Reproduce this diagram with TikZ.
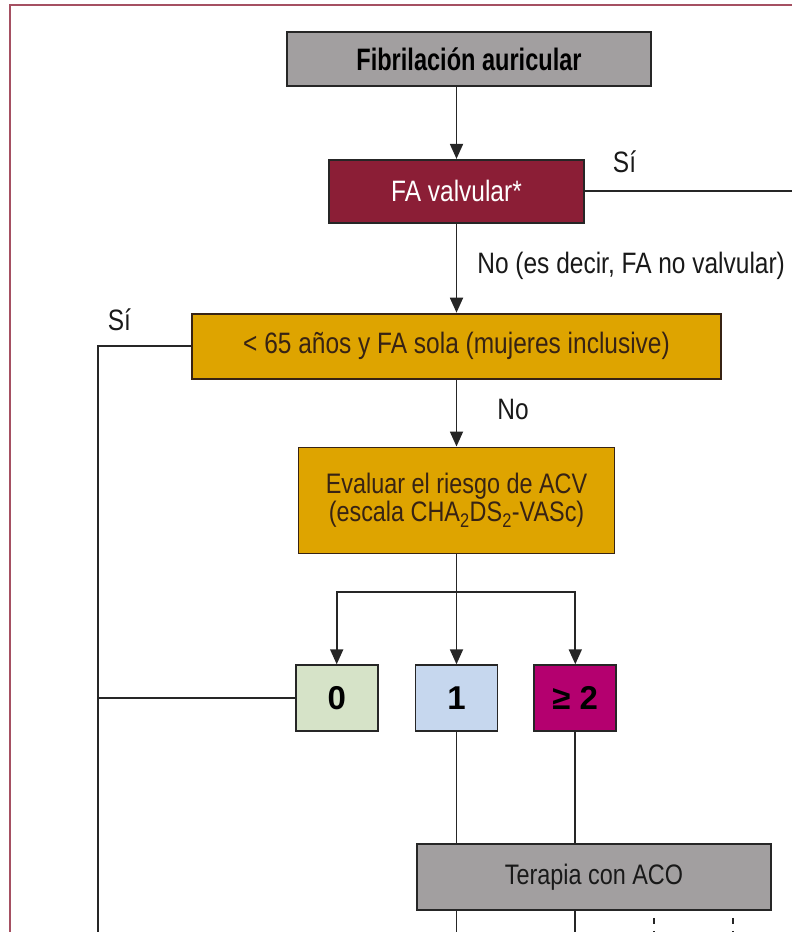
\documentclass[tikz,border=0pt]{standalone}
\usepackage{fontspec}
\setmainfont{Liberation Sans}
\newfontfamily\condfont{Liberation Sans}[FakeStretch=0.83]
\newfontfamily\headfont{Liberation Sans}[FakeStretch=0.76]
\usetikzlibrary{arrows.meta,positioning}

\definecolor{boxgray}{RGB}{162,159,160}
\definecolor{valvred}{RGB}{139,30,54}
\definecolor{agegold}{RGB}{222,164,0}
\definecolor{scoregreen}{RGB}{214,227,200}
\definecolor{scoreblue}{RGB}{198,215,238}
\definecolor{scorepink}{RGB}{180,0,111}
\definecolor{framered}{RGB}{165,80,98}
\definecolor{darkbrown}{RGB}{55,35,20}

\begin{document}
\begin{tikzpicture}[
  x=1pt, y=-1pt,
  font=\condfont\fontsize{29.5}{31}\selectfont,
  box/.style={
    draw=black!85,
    line width=1.8pt,
    inner sep=0pt,
    align=center
  },
  head/.style={box, fill=boxgray, text=black,
    font=\headfont\bfseries\fontsize{31}{33}\selectfont,
    minimum width=364pt, minimum height=54pt},
  valvbox/.style={box, fill=valvred, text=white,
    minimum width=255pt, minimum height=63pt},
  agebox/.style={box, draw=darkbrown, fill=agegold, text=darkbrown,
    minimum width=529pt, minimum height=65pt},
  scorebox/.style={box, text=black,
    font=\normalfont\bfseries\fontsize{33}{35}\selectfont,
    minimum width=82pt, minimum height=66pt},
  therapy/.style={box, fill=boxgray, text=black!90,
    font=\condfont\fontsize{28.2}{30}\selectfont,
    minimum width=354pt, minimum height=66pt},
  lbl/.style={inner sep=0pt, text=black!90},
  line/.style={line width=1.8pt, draw=black!85},
  arrow/.style={line, -{Triangle[length=15pt, width=13pt]}},
  dashline/.style={line width=1.6pt, draw=black!85, dash pattern=on 6pt off 7pt}
]

\useasboundingbox (0,0) rectangle (792,932);
\draw[framered, line width=1.6pt] (10,945) |- (805,5);

\coordinate (bottom) at (0,945);
\coordinate (leftrail) at (98,0);
\coordinate (rightedge) at (805,0);

\node[head] (fib) at (469,59) {Fibrilaci\'on auricular};
\node[valvbox, below=72pt of fib, xshift=-12.5pt] (valv) {FA valvular*};
\node[agebox, below=89pt of valv] (age) {< 65 a\~nos y FA sola (mujeres inclusive)};
\node[agebox, minimum width=316pt, minimum height=106pt,
  font=\condfont\fontsize{28.2}{28.5}\selectfont,
  below=67pt of age] (eval) {Evaluar el riesgo de ACV\\(escala CHA\textsubscript{2}DS\textsubscript{2}-VASc)};

\coordinate[below=38pt of eval.south] (split);

\node[scorebox, fill=scoreblue, below=110pt of eval] (n1) {1};
\node[scorebox, fill=scoregreen, left=36pt of n1] (n0) {0};
\node[scorebox, fill=scorepink, right=35pt of n1] (n2) {≥ 2};

\node[therapy, below=111pt of n1, xshift=137.5pt] (aco) {Terapia con ACO};

\coordinate[below=7pt of aco.south, xshift=60pt] (dash1);
\coordinate[below=7pt of aco.south, xshift=139pt] (dash2);

\draw[arrow] (fib.south -| valv) -- (valv);
\draw[line] (valv) -- node[lbl, pos=0.18, above=18pt] {S\'i} (valv -| rightedge);
\draw[arrow] (valv) -- node[lbl, anchor=west, xshift=20pt, yshift=2pt] {No (es decir, FA no valvular)} (age);
\draw[line] (age) -- node[lbl, pos=0.77, above=14pt] {S\'i} (age -| leftrail) -- (leftrail |- bottom);
\draw[arrow] (age) -- node[lbl, anchor=west, xshift=40pt, yshift=4pt] {No} (eval);

\draw[line] (eval) -- (split);
\draw[arrow] (split) -| (n0);
\draw[arrow] (split) -- (n1);
\draw[arrow] (split) -| (n2);

\draw[line] (n0) -- (n0 -| leftrail);
\draw[line] (n1) -- (n1 |- aco.north);
\draw[line] (n2) -- (n2 |- aco.north);
\draw[line] (aco.south -| n1) -- (n1 |- bottom);
\draw[line] (aco.south -| n2) -- (n2 |- bottom);
\draw[dashline] (dash1) -- (dash1 |- bottom);
\draw[dashline] (dash2) -- (dash2 |- bottom);

\end{tikzpicture}
\end{document}
